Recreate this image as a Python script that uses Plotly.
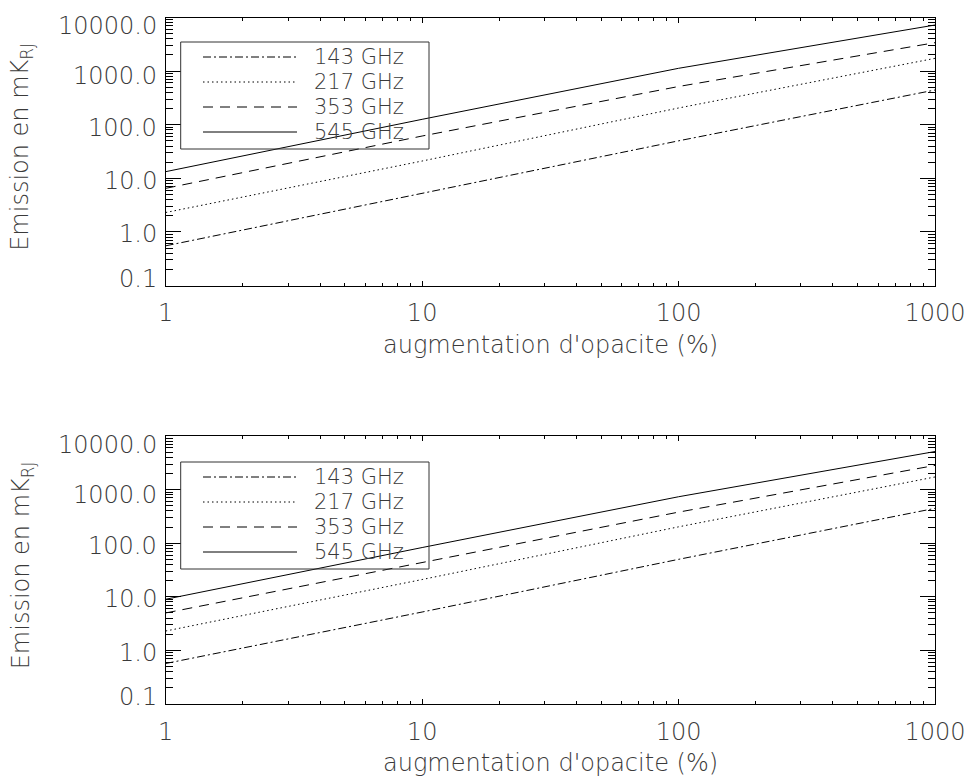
import math
import plotly.graph_objects as go

# Opacity increase (%) at which the emission was computed
opacity_pct = [1, 10, 100, 1000]

# Emission in mK_RJ, upper panel
top_143 = [0.55, 5.2, 50, 444]
top_217 = [2.3, 21, 205, 1730]
top_353 = [6.5, 61.5, 516, 3390]
top_545 = [13.3, 126, 1128, 7240]

# Emission in mK_RJ, lower panel
bot_143 = [0.57, 5.2, 50, 447]
bot_217 = [2.3, 21, 202, 1720]
bot_353 = [5.0, 44, 380, 2825]
bot_545 = [9.0, 83, 736, 5130]

bands = ["143 GHz", "217 GHz", "353 GHz", "545 GHz"]
dashes = ["8px,3px,2px,3px", "1.5px,3px", "10px,7px", "solid"]

x_ticks = [1, 10, 100, 1000]
x_tick_text = ["1", "10", "100", "1000"]
y_ticks = [0.1, 1, 10, 100, 1000, 10000]
y_tick_text = ["0.1", "1.0", "10.0", "100.0", "1000.0", "10000.0"]
# small vertical nudges of the y labels (px, positive = down)
y_label_nudge = [-7, 2.5, 2.3, 3, 5, 8.5]

# 2..9 subdivisions of every decade, for the short ticks
x_minor = [m * 10 ** d for d in range(0, 3) for m in range(2, 10)]
y_minor = [m * 10 ** d for d in range(-1, 4) for m in range(2, 10)]

x_title = "augmentation d'opacite (%)"
y_title = "Emission en mK<sub>RJ</sub>"

W, H = 967, 780
FONT = "DejaVu Sans"
TXT = "#3a3a3a"
FS = 24
FS_LEGEND = 21
WEIGHT = 200

left_px, right_px = 165.7, 935
panels = [
    dict(top=17.5, bottom=285.5, series=[top_143, top_217, top_353, top_545],
         n=1, legend=(42, 149)),
    dict(top=436, bottom=704, series=[bot_143, bot_217, bot_353, bot_545],
         n=2, legend=(462, 569)),
]

fig = go.Figure()
annotations = []
shapes = []


def px_x(p):
    return p / W


def px_y(p):
    return 1 - p / H


def axid(n):
    return "" if n == 1 else str(n)


def font(size=FS):
    return dict(family=FONT, size=size, color=TXT, weight=WEIGHT)


common = dict(showline=True, linecolor="black", linewidth=1, mirror="ticks",
              showgrid=False, zeroline=False, automargin=False,
              tickwidth=1, tickcolor="black", ticks="inside")

for pan in panels:
    n = pan["n"]
    xm, ym = n, n                 # main axes
    xn, yn = n + 2, n + 2         # overlay axes carrying the minor ticks
    xref, yref = "x" + axid(xm), "y" + axid(ym)
    for name, vals, dash in zip(bands, pan["series"], dashes):
        fig.add_trace(go.Scatter(
            x=opacity_pct, y=vals, mode="lines", name=name,
            line=dict(color="black", width=1, dash=dash),
            xaxis=xref, yaxis=yref, showlegend=False,
        ))
    # empty traces so the minor-tick axes get drawn
    fig.add_trace(go.Scatter(x=[], y=[], xaxis="x" + axid(xn), yaxis=yref,
                             showlegend=False, hoverinfo="skip"))
    fig.add_trace(go.Scatter(x=[], y=[], xaxis=xref, yaxis="y" + axid(yn),
                             showlegend=False, hoverinfo="skip"))

    xdom = [px_x(left_px), px_x(right_px)]
    ydom = [px_y(pan["bottom"]), px_y(pan["top"])]
    fig.update_layout(**{
        "xaxis" + axid(xm): dict(
            domain=xdom, anchor=yref, type="log", range=[0, 3],
            tickvals=x_ticks, ticktext=x_tick_text, ticklen=5,
            tickfont=font(), ticklabelstandoff=6, **common,
        ),
        "xaxis" + axid(xn): dict(
            domain=xdom, anchor=yref, overlaying=xref, type="log", range=[0, 3],
            tickvals=x_minor, ticklen=3, showticklabels=False, **common,
        ),
        "yaxis" + axid(ym): dict(
            domain=ydom, anchor=xref, type="log", range=[-1, 4],
            tickvals=y_ticks, showticklabels=False, ticklen=15, **common,
        ),
        "yaxis" + axid(yn): dict(
            domain=ydom, anchor=xref, overlaying=yref, type="log", range=[-1, 4],
            tickvals=y_minor, showticklabels=False, ticklen=7, **common,
        ),
    })
    # y tick labels
    for v, t, nudge in zip(y_ticks, y_tick_text, y_label_nudge):
        annotations.append(dict(
            x=xdom[0], xref="paper", y=math.log10(v), yref=yref,
            text=t, showarrow=False, xanchor="right", yanchor="middle",
            xshift=-7, yshift=-nudge, font=font(),
        ))
    # axis titles
    annotations.append(dict(
        x=(xdom[0] + xdom[1]) / 2, xref="paper", y=px_y(pan["bottom"] + 59), yref="paper",
        text=x_title, showarrow=False, xanchor="center", yanchor="middle", font=font(),
    ))
    annotations.append(dict(
        x=px_x(22), xref="paper", y=(ydom[0] + ydom[1]) / 2 + 0.006, yref="paper",
        text=y_title, showarrow=False, textangle=-90, xanchor="center", yanchor="middle",
        font=font(),
    ))
    # legend box
    lt, lb = pan["legend"]
    shapes.append(dict(type="rect", xref="paper", yref="paper",
                       x0=px_x(180.7), x1=px_x(429), y0=px_y(lb), y1=px_y(lt),
                       line=dict(color="#333", width=1)))
    row_gap = (lb - lt - 32) / 3
    for k, (name, dash) in enumerate(zip(bands, dashes)):
        ry = lt + 15 + k * row_gap
        shapes.append(dict(type="line", xref="paper", yref="paper",
                           x0=px_x(203), x1=px_x(297), y0=px_y(ry), y1=px_y(ry),
                           line=dict(color="black", width=1, dash=dash)))
        annotations.append(dict(
            x=px_x(313), xref="paper", y=px_y(ry), yref="paper",
            text=name, showarrow=False, xanchor="left", yanchor="middle",
            borderpad=0, font=font(FS_LEGEND),
        ))

fig.update_layout(
    width=W, height=H, margin=dict(l=0, r=0, t=0, b=0),
    paper_bgcolor="white", plot_bgcolor="white",
    font=dict(family=FONT, color=TXT),
    annotations=annotations, shapes=shapes, showlegend=False,
)

fig.write_html("out.html")
